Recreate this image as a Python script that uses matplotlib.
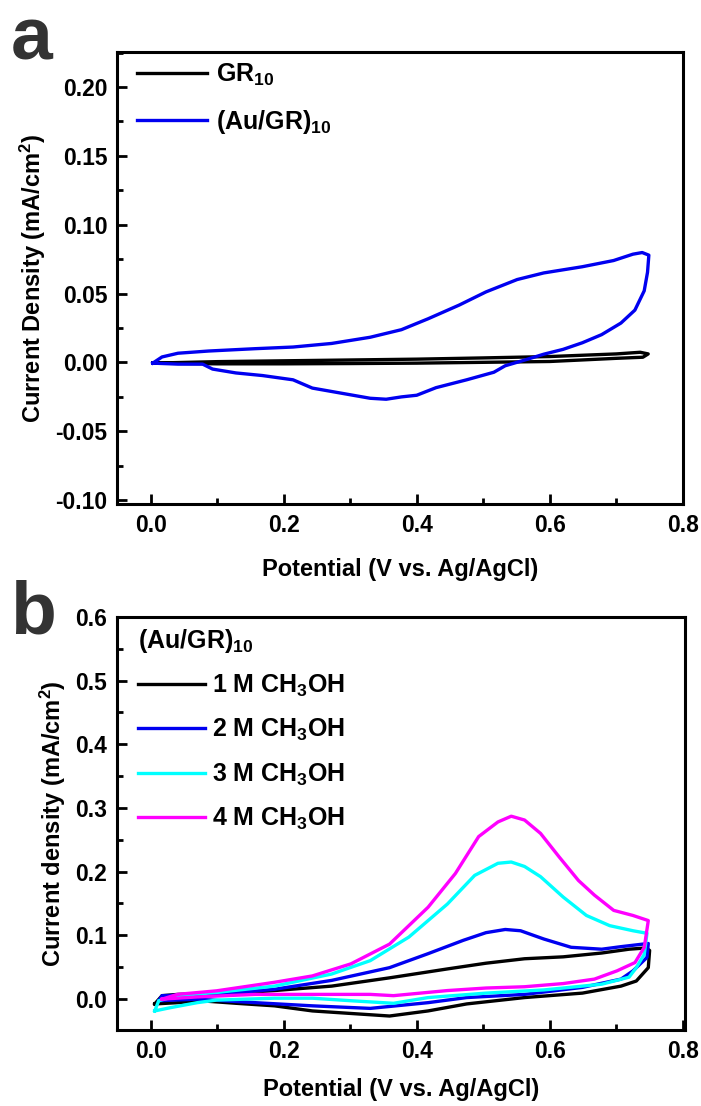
import matplotlib
matplotlib.use("Agg")
import matplotlib.pyplot as plt  # noqa: E402
from matplotlib.ticker import MultipleLocator  # noqa: E402

plt.rcParams["font.family"] = ["Liberation Sans", "DejaVu Sans"]
plt.rcParams["font.weight"] = "bold"
plt.rcParams["mathtext.default"] = "regular"

# ---- panel a: GR10 vs (Au/GR)10 ----
gr_v = [0.003, 0.1, 0.2, 0.3, 0.4, 0.5, 0.6, 0.7, 0.736, 0.748,
        0.74, 0.7, 0.6, 0.5, 0.4, 0.3, 0.2, 0.1, 0.003]
gr_j = [-0.0005, 0.0006, 0.0012, 0.0018, 0.0024, 0.0033, 0.0043, 0.0062, 0.0074, 0.0062,
        0.0038, 0.0030, 0.0007, 0.0001, -0.0005, -0.0008, -0.0010, -0.0010, -0.0005]

augr_v = [0.003, 0.017, 0.041, 0.087, 0.157, 0.214, 0.272, 0.33, 0.377, 0.417,
          0.464, 0.504, 0.551, 0.591, 0.649, 0.696, 0.725, 0.739, 0.749,
          0.747, 0.742, 0.728, 0.707, 0.678, 0.649, 0.62, 0.591, 0.562, 0.533,
          0.516, 0.475, 0.429, 0.40, 0.377, 0.354, 0.33, 0.29, 0.243, 0.214,
          0.168, 0.128, 0.093, 0.078, 0.041, 0.003]
augr_j = [-0.0005, 0.004, 0.0067, 0.0083, 0.010, 0.0112, 0.0138, 0.0183, 0.0238, 0.0317,
          0.0417, 0.0512, 0.0602, 0.065, 0.0695, 0.074, 0.0786, 0.0798, 0.0779,
          0.0655, 0.052, 0.038, 0.0286, 0.0202, 0.0143, 0.0095, 0.006, 0.0017, -0.0024,
          -0.0071, -0.0126, -0.0183, -0.0238, -0.025, -0.0267, -0.026, -0.0226, -0.0186, -0.0126,
          -0.0095, -0.0076, -0.0048, -0.0012, -0.0012, -0.0005]

# ---- panel b: (Au/GR)10 in 1-4 M CH3OH ----
m1_v = [0.006, 0.017, 0.041, 0.099, 0.157, 0.186, 0.272, 0.359, 0.446, 0.504, 0.562,
        0.62, 0.678, 0.719, 0.745, 0.75, 0.748, 0.730, 0.707, 0.649, 0.562, 0.475,
        0.417, 0.359, 0.301, 0.243, 0.186, 0.128, 0.075, 0.041, 0.006]
m1_j = [-0.008, 0.005, 0.007, 0.009, 0.011, 0.013, 0.020, 0.033, 0.047, 0.056, 0.063,
        0.066, 0.072, 0.078, 0.080, 0.076, 0.049, 0.028, 0.020, 0.009, 0.002, -0.008,
        -0.019, -0.027, -0.023, -0.019, -0.011, -0.007, -0.003, -0.006, -0.008]

m2_v = [0.012, 0.017, 0.099, 0.186, 0.272, 0.359, 0.417, 0.47, 0.504, 0.533, 0.556,
        0.591, 0.632, 0.678, 0.707, 0.748, 0.746, 0.725, 0.707, 0.649, 0.562, 0.475,
        0.417, 0.33, 0.243, 0.157, 0.07, 0.012]
m2_j = [-0.003, 0.005, 0.007, 0.015, 0.029, 0.049, 0.071, 0.092, 0.104, 0.109, 0.107,
        0.094, 0.081, 0.078, 0.082, 0.087, 0.065, 0.044, 0.031, 0.018, 0.007, 0.002,
        -0.006, -0.015, -0.011, -0.006, -0.0005, -0.003]

m3_v = [0.006, 0.012, 0.04, 0.099, 0.186, 0.272, 0.33, 0.388, 0.446, 0.487, 0.522,
        0.542, 0.562, 0.586, 0.62, 0.655, 0.69, 0.725, 0.746, 0.742, 0.730, 0.719,
        0.678, 0.591, 0.504, 0.417, 0.365, 0.301, 0.243, 0.186, 0.099, 0.07, 0.029, 0.006]
m3_j = [-0.019, -0.003, 0.005, 0.010, 0.020, 0.039, 0.060, 0.097, 0.149, 0.194, 0.213,
        0.215, 0.208, 0.192, 0.160, 0.131, 0.115, 0.107, 0.103, 0.070, 0.049, 0.034,
        0.023, 0.014, 0.009, 0.002, -0.007, -0.003, 0.001, 0.001, -0.002, -0.006, -0.014, -0.019]

m4_v = [0.017, 0.04, 0.099, 0.186, 0.243, 0.301, 0.359, 0.417, 0.458, 0.493, 0.522,
        0.542, 0.562, 0.586, 0.614, 0.643, 0.667, 0.696, 0.725, 0.748, 0.742, 0.728,
        0.701, 0.667, 0.62, 0.562, 0.504, 0.446, 0.365, 0.33, 0.272, 0.157, 0.07, 0.017]
m4_j = [-0.0005, 0.007, 0.0126, 0.026, 0.036, 0.055, 0.086, 0.144, 0.197, 0.255, 0.278,
        0.287, 0.281, 0.260, 0.223, 0.186, 0.163, 0.139, 0.131, 0.123, 0.081, 0.057,
        0.044, 0.031, 0.024, 0.019, 0.017, 0.013, 0.005, 0.007, 0.007, 0.007, 0.003, -0.0005]

labels_a = ["GR$_{10}$", "(Au/GR)$_{10}$"]
labels_b = ["1 M CH$_3$OH", "2 M CH$_3$OH", "3 M CH$_3$OH", "4 M CH$_3$OH"]
colors_b = ["black", "#0000f0", "cyan", "magenta"]


def style_axes(ax, xpad):
    for s in ax.spines.values():
        s.set_linewidth(2.2)
    ax.tick_params(which="both", direction="in", width=2, labelsize=16.5,
                   top=False, right=False)
    ax.tick_params(which="major", length=7, pad=7)
    ax.tick_params(which="minor", length=4)
    ax.xaxis.set_major_locator(MultipleLocator(0.2))
    ax.xaxis.set_minor_locator(MultipleLocator(0.1))
    ax.set_xlabel("Potential (V vs. Ag/AgCl)", fontsize=17, fontweight="bold", labelpad=xpad)


fig = plt.figure(figsize=(7.01, 11.06), dpi=100)

ax_a = fig.add_axes([0.167, 0.544, 0.807, 0.409])
ax_a.plot(gr_v, gr_j, color="black", lw=2.4, label=labels_a[0])
ax_a.plot(augr_v, augr_j, color="#0000f0", lw=2.4, label=labels_a[1])
ax_a.set_xlim(-0.0506, 0.8)
ax_a.set_ylim(-0.103, 0.2254)
ax_a.yaxis.set_major_locator(MultipleLocator(0.05))
ax_a.yaxis.set_minor_locator(MultipleLocator(0.025))
ax_a.yaxis.set_major_formatter(plt.FormatStrFormatter("%.2f"))
style_axes(ax_a, 15)
ax_a.set_ylabel("Current Density (mA/cm$^2$)", fontsize=17, fontweight="bold", labelpad=5)
ax_a.legend(loc="upper left", bbox_to_anchor=(0.018, 1.0), frameon=False, fontsize=18,
            handlelength=2.8, handletextpad=0.35, labelspacing=0.8, borderaxespad=0.0)
fig.text(0.015, 0.995, "a", fontsize=54, fontweight="bold", color="#333333",
         va="top", ha="left")

ax_b = fig.add_axes([0.167, 0.0687, 0.810, 0.3734])
for v, j, c, lab in zip([m1_v, m2_v, m3_v, m4_v], [m1_j, m2_j, m3_j, m4_j], colors_b, labels_b):
    ax_b.plot(v, j, color=c, lw=2.4, label=lab)
ax_b.set_xlim(-0.0506, 0.803)
ax_b.set_ylim(-0.049, 0.6)
ax_b.yaxis.set_major_locator(MultipleLocator(0.1))
ax_b.yaxis.set_minor_locator(MultipleLocator(0.05))
ax_b.yaxis.set_major_formatter(plt.FormatStrFormatter("%.1f"))
style_axes(ax_b, 11)
ax_b.set_ylabel("Current density (mA/cm$^2$)", fontsize=17, fontweight="bold", labelpad=5)
leg = ax_b.legend(loc="upper left", bbox_to_anchor=(0.02, 1.0), frameon=False, fontsize=18,
                  handlelength=2.65, handletextpad=0.3, labelspacing=0.72, borderaxespad=0.0,
                  title="(Au/GR)$_{10}$", title_fontsize=18, alignment="left")
leg.get_title().set_fontweight("bold")
fig.text(0.015, 0.476, "b", fontsize=54, fontweight="bold", color="#333333",
         va="top", ha="left")

fig.savefig("out.png", dpi=100)
